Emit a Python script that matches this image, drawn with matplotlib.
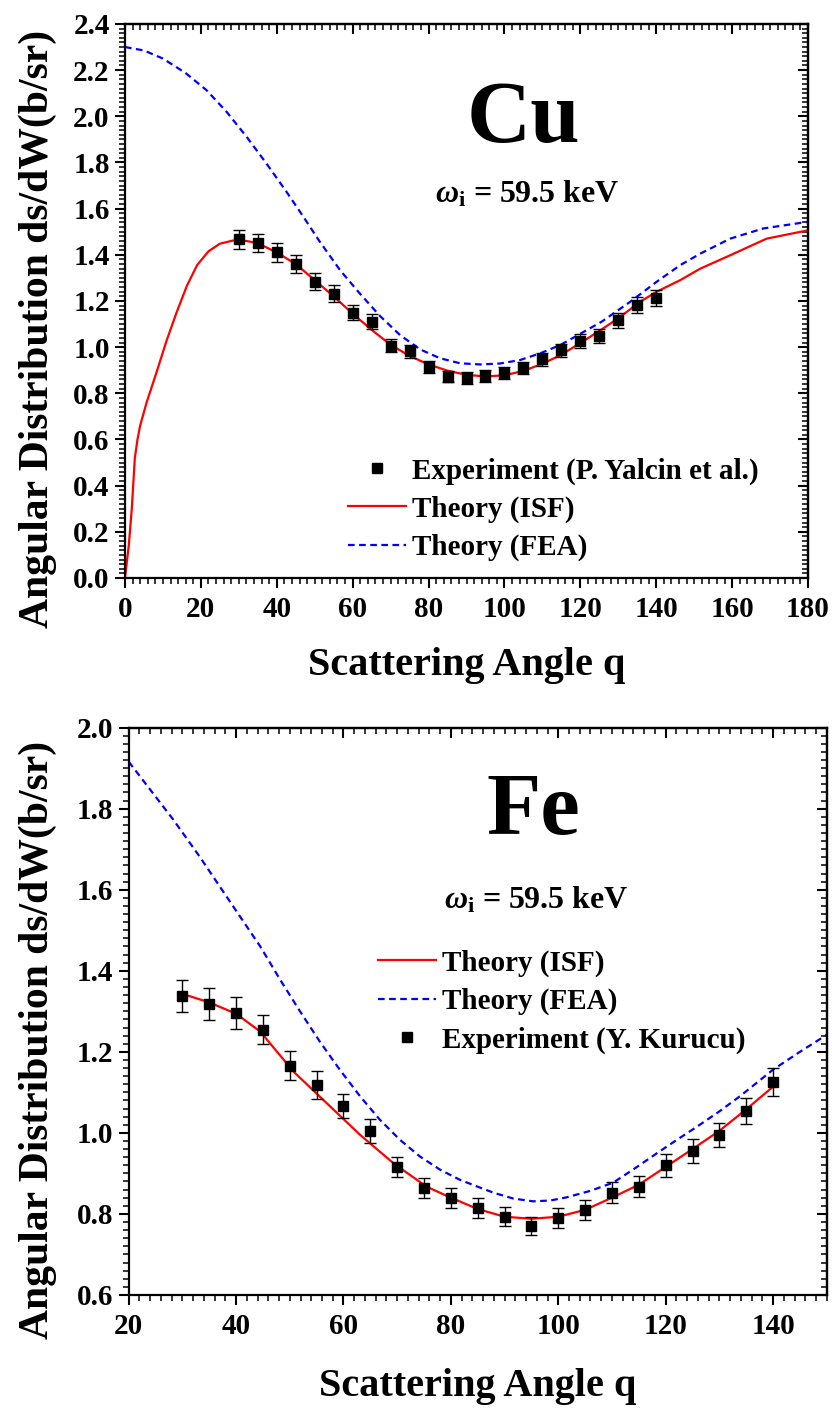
import matplotlib
matplotlib.use("Agg")
import matplotlib.pyplot as plt
from matplotlib.lines import Line2D
from matplotlib.ticker import MultipleLocator

plt.rcParams['font.family'] = ['Liberation Serif', 'DejaVu Serif']
plt.rcParams['font.weight'] = 'bold'
plt.rcParams['mathtext.fontset'] = 'custom'
plt.rcParams['mathtext.rm'] = 'Liberation Serif'
plt.rcParams['mathtext.it'] = 'Liberation Serif:italic'
plt.rcParams['mathtext.bf'] = 'Liberation Serif:bold'

# ---------------- Cu data ----------------
cu_exp_angle = [30, 35, 40, 45, 50, 55, 60, 65, 70, 75, 80, 85, 90, 95, 100, 105, 110, 115, 120, 125, 130, 135, 140]
cu_exp = [1.467, 1.45, 1.41, 1.36, 1.283, 1.232, 1.149, 1.11, 1.006, 0.983, 0.915, 0.872, 0.867, 0.876, 0.889,
          0.91, 0.947, 0.987, 1.026, 1.048, 1.117, 1.182, 1.212]
cu_err = [0.041, 0.04, 0.04, 0.039, 0.037, 0.035, 0.033, 0.032, 0.029, 0.028, 0.026, 0.025, 0.025, 0.025, 0.026,
          0.026, 0.027, 0.028, 0.03, 0.03, 0.032, 0.034, 0.035]

cu_isf_angle = [0, 1.0, 1.8, 2.6, 3.3, 4, 5.7, 8.3, 11, 13.6, 16.3, 19, 22, 25, 28.5, 32, 35, 40, 45, 50, 55, 60,
                65, 70, 75, 80, 85, 90, 95, 100, 105, 110, 115, 120, 125, 130, 135.7, 140.1, 146.3, 151.6, 159.5,
                169.1, 180]
cu_isf = [0, 0.14, 0.3, 0.52, 0.6, 0.66, 0.76, 0.89, 1.03, 1.15, 1.265, 1.355, 1.415, 1.448, 1.462, 1.46, 1.45, 1.41,
          1.36, 1.29, 1.22, 1.145, 1.075, 1.01, 0.962, 0.925, 0.898, 0.88, 0.873, 0.878, 0.897, 0.928, 0.967, 1.018,
          1.07, 1.125, 1.196, 1.24, 1.29, 1.34, 1.398, 1.47, 1.506]

cu_fea_angle = [0, 5, 10, 16, 21.5, 26.8, 32.1, 37.3, 42.6, 47, 51.2, 56.7, 61.9, 67.2, 72.5, 77.8, 83, 88.3, 93.6,
                98.8, 104.1, 109.4, 114.7, 120, 125.6, 133.1, 140.1, 146.3, 151.6, 159.5, 168.2, 180]
cu_fea = [2.30, 2.285, 2.25, 2.187, 2.113, 2.019, 1.91, 1.795, 1.672, 1.565, 1.46, 1.333, 1.232, 1.135, 1.052, 0.99,
          0.952, 0.93, 0.925, 0.929, 0.944, 0.973, 1.009, 1.058, 1.11, 1.196, 1.283, 1.355, 1.405, 1.47, 1.514, 1.543]

# ---------------- Fe data ----------------
fe_exp_angle = [30, 35, 40, 45, 50, 55, 60, 65, 70, 75, 80, 85, 90, 95, 100, 105, 110, 115, 120, 125, 130, 135, 140]
fe_exp = [1.338, 1.318, 1.296, 1.255, 1.166, 1.118, 1.067, 1.005, 0.916, 0.864, 0.840, 0.815, 0.793, 0.770, 0.790,
          0.810, 0.852, 0.867, 0.920, 0.955, 0.994, 1.054, 1.126]
fe_err = [0.04, 0.04, 0.04, 0.035, 0.035, 0.035, 0.03, 0.03, 0.025, 0.025, 0.025, 0.025, 0.024, 0.023, 0.024,
          0.024, 0.026, 0.026, 0.028, 0.029, 0.03, 0.032, 0.034]

fe_isf_angle = [30, 35, 40, 44.5, 50.7, 56.9, 63.1, 69.3, 75.5, 80, 85, 90, 95, 100, 105, 110, 115, 120, 125, 130,
                135, 140]
fe_isf = [1.343, 1.322, 1.294, 1.25, 1.151, 1.073, 0.995, 0.925, 0.867, 0.84, 0.812, 0.793, 0.788, 0.793, 0.81,
          0.84, 0.872, 0.916, 0.96, 1.005, 1.058, 1.114]

fe_fea_angle = [20, 24, 28.3, 33.3, 39.5, 44.5, 48.2, 51.9, 55.6, 59.3, 63.1, 66.8, 70.5, 74.2, 78, 81.7, 85.4, 88,
                91.6, 95.3, 98.5, 101.6, 106, 110.2, 114, 118.4, 122, 125.8, 130, 133.9, 140, 145, 150]
fe_fea = [1.916, 1.847, 1.773, 1.68, 1.558, 1.46, 1.378, 1.30, 1.225, 1.156, 1.09, 1.032, 0.983, 0.942, 0.909, 0.884,
          0.865, 0.852, 0.838, 0.831, 0.833, 0.841, 0.857, 0.877, 0.91, 0.95, 0.982, 1.015, 1.053, 1.091, 1.156, 1.2,
          1.242]

energy_label = r'$\omega_{\mathbf{i}}$ = 59.5 keV'
ylab = 'Angular Distribution ds/dW(b/sr)'
xlab = 'Scattering Angle q'


def style_axes(ax, xmaj, ymaj):
    ax.xaxis.set_major_locator(MultipleLocator(xmaj))
    ax.xaxis.set_minor_locator(MultipleLocator(2))
    ax.yaxis.set_major_locator(MultipleLocator(ymaj))
    ax.yaxis.set_minor_locator(MultipleLocator(0.02))
    ax.tick_params(which='both', direction='out', top=False, right=False, labelsize=21)
    ax.tick_params(axis='x', pad=6)
    ax.tick_params(axis='y', pad=4)
    ax.tick_params(which='major', length=7, width=1.5)
    ax.tick_params(which='minor', length=4, width=1.1)
    for sp in ax.spines.values():
        sp.set_linewidth(1.6)
    # top / right: inward ticks without labels
    sx = ax.secondary_xaxis('top')
    sx.xaxis.set_major_locator(MultipleLocator(xmaj))
    sx.xaxis.set_minor_locator(MultipleLocator(2))
    sx.tick_params(which='both', direction='in', labeltop=False)
    sx.tick_params(which='major', length=7, width=1.5)
    sx.tick_params(which='minor', length=4, width=1.1)
    sx.spines['top'].set_linewidth(1.6)
    sy = ax.secondary_yaxis('right')
    sy.yaxis.set_major_locator(MultipleLocator(ymaj))
    sy.yaxis.set_minor_locator(MultipleLocator(0.02))
    sy.tick_params(which='both', direction='in', labelright=False)
    sy.tick_params(which='major', length=7, width=1.5)
    sy.tick_params(which='minor', length=4, width=1.1)
    sy.spines['right'].set_linewidth(1.6)
    for lab in ax.get_xticklabels() + ax.get_yticklabels():
        lab.set_fontweight('bold')


fig = plt.figure(figsize=(8.32, 14.08), dpi=100)
ax1 = fig.add_axes([0.1502, 0.5895, 0.821, 0.3935])
ax2 = fig.add_axes([0.1547, 0.0803, 0.839, 0.4029])

exp_h = Line2D([], [], color='black', marker='s', markersize=7.5, linestyle='none')
isf_h = Line2D([], [], color='red', lw=1.6)
fea_h = Line2D([], [], color='blue', lw=1.6, linestyle=(0, (3, 2)))

leg_kw = dict(loc='upper left', frameon=False, fontsize=21, borderpad=0, borderaxespad=0,
              handlelength=2.0, handletextpad=0.2, labelspacing=0.38)

# ---- Cu ----
ax1.plot(cu_isf_angle, cu_isf, color='red', lw=1.6)
ax1.plot(cu_fea_angle, cu_fea, color='blue', lw=1.6, linestyle=(0, (3, 2)))
ax1.errorbar(cu_exp_angle, cu_exp, yerr=cu_err, fmt='s', color='black', markersize=7.5,
             ecolor='black', elinewidth=1, capsize=4.5, capthick=1)
ax1.set_xlim(0, 180)
ax1.set_ylim(0, 2.4)
style_axes(ax1, 20, 0.2)
ax1.set_xlabel(xlab, fontsize=29, fontweight='bold')
ax1.set_ylabel(ylab, fontsize=30, fontweight='bold')
ax1.xaxis.set_label_coords(0.5, -0.124)
ax1.yaxis.set_label_coords(-0.0996, 0.45)
ax1.text(0.583, 0.826, 'Cu', transform=ax1.transAxes, fontsize=64, fontweight='bold', ha='center', va='center')
ax1.text(0.589, 0.677, energy_label, transform=ax1.transAxes, fontsize=23, fontweight='bold',
         ha='center', va='baseline')
ax1.legend([exp_h, isf_h, fea_h], ['Experiment (P. Yalcin et al.)', 'Theory (ISF)', 'Theory (FEA)'],
           bbox_to_anchor=(0.3265, 0.218), **leg_kw)

# ---- Fe ----
ax2.plot(fe_isf_angle, fe_isf, color='red', lw=1.6)
ax2.plot(fe_fea_angle, fe_fea, color='blue', lw=1.6, linestyle=(0, (3, 2)))
ax2.errorbar(fe_exp_angle, fe_exp, yerr=fe_err, fmt='s', color='black', markersize=7.5,
             ecolor='black', elinewidth=1, capsize=4.5, capthick=1)
ax2.set_xlim(20, 150)
ax2.set_ylim(0.6, 2.0)
style_axes(ax2, 20, 0.2)
ax2.set_xlabel(xlab, fontsize=29, fontweight='bold')
ax2.set_ylabel(ylab, fontsize=30, fontweight='bold')
ax2.xaxis.set_label_coords(0.5, -0.129)
ax2.yaxis.set_label_coords(-0.1027, 0.449)
ax2.text(0.580, 0.85, 'Fe', transform=ax2.transAxes, fontsize=64, fontweight='bold', ha='center', va='center')
ax2.text(0.583, 0.682, energy_label, transform=ax2.transAxes, fontsize=23, fontweight='bold',
         ha='center', va='baseline')
ax2.legend([isf_h, fea_h, exp_h], ['Theory (ISF)', 'Theory (FEA)', 'Experiment (Y. Kurucu)'],
           bbox_to_anchor=(0.357, 0.609), **leg_kw)

fig.savefig('out.png', dpi=100)
